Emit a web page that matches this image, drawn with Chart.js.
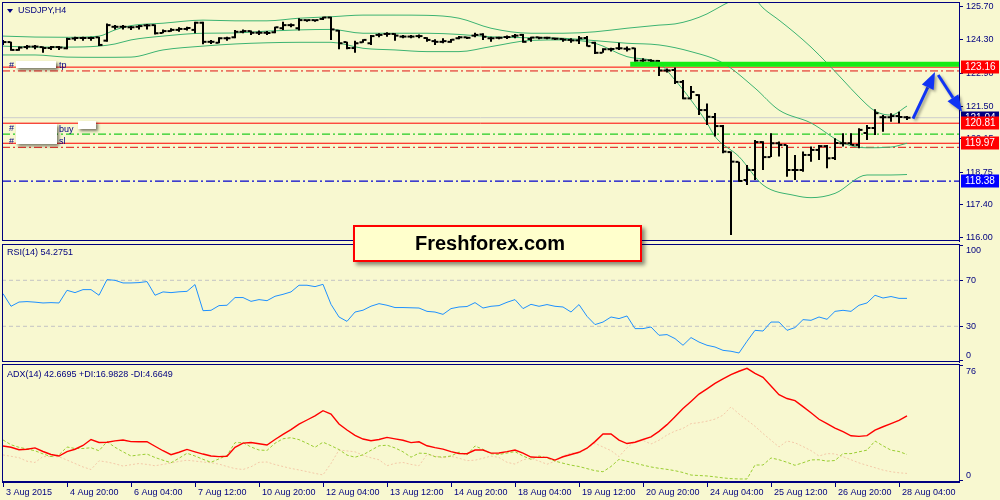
<!DOCTYPE html>
<html>
<head>
<meta charset="utf-8">
<title>USDJPY,H4</title>
<script src="https://cdn.jsdelivr.net/npm/chart.js@4.4.1/dist/chart.umd.min.js"></script>
<style>
  html, body { margin: 0; padding: 0; }
  body { width: 1000px; height: 500px; background: #f8f8d0; position: relative; overflow: hidden;
         font-family: "Liberation Sans", Arial, sans-serif; }
  canvas { position: absolute; left: 0; }
  .lbl { position: absolute; font-size: 9px; line-height: 10px; color: #000080; white-space: nowrap; }
  .mask { position: absolute; background: #fff; box-shadow: 2px 2px 3px rgba(0,0,0,0.5); }
  .tri { position: absolute; left: 7px; top: 9px; width: 0; height: 0;
         border-left: 3px solid transparent; border-right: 3px solid transparent; border-top: 4px solid #000080; }
  #brand { position: absolute; left: 353px; top: 225px; width: 225px; height: 33px; padding-left: 60px;
           border: 2px solid #ff0000; background: #ffffcc; box-shadow: 3px 3px 4px rgba(0,0,0,0.45);
           font: bold 20px "Liberation Sans", Arial, sans-serif; line-height: 33px; color: #000; }
</style>
</head>
<body>
<canvas id="price" width="1000" height="242" style="top:0"></canvas>
<canvas id="rsi" width="1000" height="121" style="top:242px"></canvas>
<canvas id="adx" width="1000" height="137" style="top:363px"></canvas>

<div class="tri"></div>
<div class="lbl" style="left:18px;top:5px">USDJPY,H4</div>
<div class="lbl" style="left:9px;top:60px">#</div>
<div class="mask" style="left:16px;top:61px;width:40px;height:7px"></div>
<div class="lbl" style="left:59px;top:60px">tp</div>
<div class="lbl" style="left:9px;top:123px">#</div>
<div class="lbl" style="left:9px;top:136px">#</div>
<div class="mask" style="left:16px;top:124px;width:41px;height:20px"></div>
<div class="lbl" style="left:59px;top:124px">buy</div>
<div class="mask" style="left:78px;top:121px;width:18px;height:8px"></div>
<div class="lbl" style="left:59px;top:136px">sl</div>
<div class="lbl" style="left:7px;top:247px">RSI(14) 54.2751</div>
<div class="lbl" style="left:7px;top:369px">ADX(14) 42.6695 +DI:16.9828 -DI:4.6649</div>
<div id="brand">Freshforex.com</div>

<script>
// ---- price bars (H4, 3 Aug 12:00 .. 28 Aug 08:00) ----
const open = [124.19,124.21,123.88,124.00,124.02,124.00,123.96,124.00,123.95,124.36,
  124.38,124.38,124.41,124.27,124.85,124.85,124.83,124.85,124.91,124.92,
  124.59,124.67,124.72,124.76,124.72,125.02,124.22,124.18,124.37,124.41,
  124.64,124.67,124.60,124.60,124.62,124.79,124.92,124.79,125.13,125.13,
  125.18,125.24,124.69,124.21,123.96,124.20,124.16,124.51,124.55,124.55,
  124.44,124.44,124.46,124.38,124.25,124.22,124.22,124.37,124.41,124.48,
  124.53,124.37,124.39,124.42,124.46,124.51,124.34,124.41,124.39,124.36,
  124.34,124.30,124.28,124.38,124.18,123.76,123.91,123.95,123.93,123.95,
  123.43,123.44,123.42,123.02,123.04,122.54,121.85,121.99,121.36,121.07,
  120.69,119.60,119.19,118.43,118.85,120.02,119.39,119.97,119.90,118.85,
  118.85,119.48,119.69,119.85,119.35,119.97,119.97,119.90,120.40,120.61,
  121.06,121.06,121.11,121.06];
const high = [124.30,124.22,124.02,124.09,124.09,124.02,124.04,124.04,124.39,124.43,
  124.43,124.43,124.43,124.99,124.92,124.92,124.88,124.92,124.97,124.95,
  124.74,124.79,124.83,124.85,125.06,125.06,124.30,124.41,124.43,124.72,
  124.74,124.69,124.69,124.67,124.85,125.06,124.99,125.21,125.16,125.16,
  125.27,125.27,124.72,124.22,124.27,124.33,124.51,124.58,124.62,124.58,
  124.51,124.51,124.53,124.41,124.33,124.37,124.34,124.46,124.43,124.60,
  124.58,124.43,124.43,124.48,124.55,124.55,124.43,124.43,124.43,124.39,
  124.37,124.37,124.46,124.46,124.22,123.95,123.97,124.18,124.02,123.97,
  123.53,123.49,123.46,123.10,123.14,122.62,122.37,122.02,121.64,121.24,
  120.74,119.62,119.20,119.06,120.11,120.05,120.39,120.04,119.90,119.48,
  119.62,119.83,119.90,119.90,120.18,120.39,120.39,120.60,120.74,121.39,
  121.15,121.23,121.29,121.11];
const low = [124.09,123.85,123.85,123.91,123.91,123.76,123.88,123.88,123.91,124.27,
  124.27,124.27,124.04,124.22,124.74,124.74,124.72,124.74,124.74,124.53,
  124.58,124.64,124.64,124.69,124.58,124.12,124.13,124.16,124.27,124.37,
  124.58,124.51,124.51,124.51,124.58,124.72,124.83,124.69,125.06,125.06,
  125.13,124.30,123.91,123.91,123.76,124.18,124.09,124.41,124.43,124.27,
  124.37,124.37,124.37,124.22,124.09,124.16,124.18,124.33,124.34,124.41,
  124.30,124.22,124.33,124.34,124.37,124.18,124.22,124.33,124.33,124.30,
  124.22,124.18,124.13,124.02,123.71,123.76,123.81,123.88,123.81,123.39,
  123.35,123.35,122.79,122.93,122.45,121.81,121.81,121.15,120.74,120.25,
  119.55,116.13,118.36,118.22,118.43,118.85,119.39,119.41,118.57,118.43,
  118.78,119.20,119.27,118.92,119.27,119.83,119.90,119.76,120.11,120.32,
  120.45,120.87,120.81,120.94];
const close = [124.21,123.88,123.98,124.02,124.02,123.96,124.00,123.98,124.34,124.38,
  124.38,124.38,124.09,124.92,124.85,124.85,124.83,124.88,124.91,124.58,
  124.67,124.72,124.76,124.80,125.02,124.22,124.22,124.37,124.37,124.64,
  124.67,124.60,124.60,124.59,124.83,124.92,124.92,125.13,125.13,125.13,
  125.24,124.74,124.16,123.96,124.16,124.30,124.46,124.51,124.55,124.48,
  124.44,124.44,124.46,124.30,124.22,124.25,124.31,124.41,124.39,124.51,
  124.43,124.37,124.39,124.42,124.48,124.22,124.40,124.39,124.39,124.35,
  124.31,124.28,124.37,124.04,123.76,123.91,123.92,123.95,123.91,123.43,
  123.44,123.42,123.02,123.02,122.54,121.85,122.12,121.36,121.08,120.69,
  119.62,119.20,118.39,118.85,120.02,119.39,119.97,119.90,118.85,118.85,
  119.48,119.69,119.85,119.34,119.98,119.97,119.90,120.53,120.61,121.23,
  121.06,121.11,121.07,121.04];

// ---- Bollinger bands (read at selected bars) ----
const upIdx = [0,4,8,12,14,16,20,25,29,33,37,41,45,49,53,57,61,66,70,74,78,82,84,86,88,90,92,93,94,95,97,99,101,103,105,107,109,111,113];
const upVal = [124.46,124.42,124.41,124.46,124.72,124.90,125.00,125.13,125.10,125.10,125.21,125.27,125.34,125.34,125.33,125.21,124.79,124.58,124.58,124.64,124.79,124.92,124.97,125.13,125.39,125.76,126.06,126.10,126.01,125.64,125.13,124.59,124.00,123.33,122.62,121.91,121.32,121.15,121.53];
const midIdx = [0,4,8,12,14,16,20,25,29,33,37,41,45,49,53,57,61,66,70,74,78,82,86,90,94,97,101,105,108,111,113];
const midVal = [124.04,124.00,124.00,124.04,124.13,124.30,124.46,124.58,124.59,124.67,124.72,124.74,124.58,124.58,124.58,124.53,124.43,124.39,124.37,124.27,124.16,124.09,123.81,123.33,122.28,121.36,120.82,119.98,119.78,119.81,119.97];
const lowIdx = [0,4,8,12,16,20,25,29,33,37,41,45,49,53,57,61,66,70,74,78,82,84,86,88,89,92,95,99,101,104,108,111,113];
const lowVal = [123.67,123.67,123.58,123.57,123.58,123.88,124.04,124.13,124.18,124.20,124.20,123.95,123.88,123.81,123.81,124.02,124.28,124.30,124.16,123.60,123.32,122.62,121.78,120.82,120.25,119.41,118.22,117.78,117.69,117.87,118.64,118.64,118.66];

// ---- indicators ----
const rsi = [58.4,47.4,51.1,51.5,51.0,50.3,50.6,50.3,61.3,59.3,
  61.9,61.9,57.0,70.6,70.0,67.7,67.7,68.0,68.9,57.0,
  59.9,59.3,60.0,60.4,66.3,43.6,43.9,48.0,48.3,55.0,
  55.0,51.7,53.2,52.3,56.1,57.8,59.9,65.7,65.7,64.5,
  66.5,49.1,38.1,34.3,42.4,44.0,47.5,49.7,48.3,46.3,
  46.3,46.1,45.9,43.0,42.4,40.4,45.4,46.8,47.2,50.6,
  45.9,47.4,48.0,50.9,53.2,45.4,49.1,47.4,48.9,47.4,
  46.8,42.4,48.9,38.7,31.5,33.7,38.1,36.7,39.0,28.0,
  28.0,29.4,22.2,22.8,19.3,13.5,20.2,16.3,13.5,12.0,
  9.1,8.3,6.8,17.0,26.5,25.9,33.7,33.7,26.5,28.9,
  35.8,35.2,38.1,36.1,43.0,43.9,43.0,48.3,50.3,57.0,
  54.6,55.9,54.3,54.3];
const adx = [22.7,21.8,20.2,20.5,21.4,19.0,17.0,16.0,18.9,20.5,
  23.0,27.0,25.0,25.2,26.1,26.7,25.6,25.5,25.6,22.5,
  19.5,16.9,18.5,20.4,18.8,17.3,16.0,15.6,15.8,21.8,
  24.6,25.0,24.2,23.3,27.0,30.4,33.6,37.3,40.0,42.7,
  46.2,44.0,37.3,33.3,29.7,27.3,26.2,27.0,28.4,27.4,
  26.5,24.9,25.5,22.8,21.6,20.6,18.9,17.7,17.5,20.0,
  20.0,17.9,18.0,18.9,20.0,17.9,15.3,15.1,15.1,13.3,
  15.5,17.0,18.5,21.2,25.6,30.7,30.7,26.6,24.3,25.2,
  27.0,28.8,32.4,36.9,42.2,47.6,52.4,57.3,60.8,64.4,
  67.4,70.3,72.5,74.4,71.1,68.4,62.6,56.9,54.3,52.9,
  48.9,44.8,40.5,37.6,34.6,32.2,29.5,29.1,29.6,33.3,
  35.5,37.6,39.7,42.7];
const plusDI = [26.7,23.5,21.8,20.7,19.5,17.4,15.6,16.8,22.0,21.0,
  21.0,21.5,19.5,25.6,21.8,18.8,16.0,16.7,17.3,15.0,
  13.2,11.5,14.5,17.8,16.0,13.8,11.8,14.1,16.4,24.9,
  24.9,22.0,20.0,19.7,24.5,27.5,28.2,26.9,24.5,21.8,
  25.2,22.9,20.3,16.6,15.2,16.8,19.8,22.8,23.2,21.4,
  18.8,15.2,17.9,17.7,15.5,15.3,16.0,18.6,16.7,22.7,
  20.4,17.5,17.0,18.0,18.9,16.0,13.8,16.0,14.7,12.6,
  11.2,9.9,9.0,7.6,6.2,5.5,9.0,13.8,12.5,11.2,
  9.9,8.7,7.8,7.1,6.2,5.0,3.3,3.0,2.7,2.1,
  1.4,0.9,0.7,0.7,10.0,10.0,14.7,13.5,11.8,9.8,
  11.5,13.4,13.5,12.6,13.0,17.6,17.6,18.8,19.9,26.0,
  22.8,19.9,19.0,17.0];
const minusDI = [16.7,15.8,14.9,12.5,11.7,15.6,15.6,15.5,13.3,11.0,
  8.7,7.0,12.8,12.0,10.8,9.3,10.2,11.0,10.4,9.5,
  10.4,11.3,12.4,13.2,12.6,12.0,11.5,10.6,9.0,7.6,
  7.0,8.8,11.8,12.0,10.3,9.0,7.7,6.7,5.6,4.4,
  3.4,11.0,20.0,19.4,18.8,16.5,14.8,13.5,9.5,11.1,
  11.7,10.4,9.5,17.0,16.0,14.7,15.8,14.5,12.9,13.2,
  14.5,16.0,15.0,11.8,10.6,13.5,14.5,12.6,10.5,12.5,
  16.0,18.1,17.8,21.0,24.4,22.0,19.6,15.6,21.5,25.7,
  26.4,24.0,26.5,30.0,32.6,34.4,37.6,38.2,39.2,40.6,
  43.2,48.8,44.0,40.0,35.8,31.0,26.5,22.0,26.0,24.8,
  22.3,19.6,16.0,17.6,17.4,15.5,13.5,11.4,9.8,8.2,
  6.6,5.5,4.8,4.4];

// ---- axes / levels ----
const timeIdx = [0,8,16,24,32,40,48,56,64,72,80,88,96,104,112];
const timeLabels = ['3 Aug 2015','4 Aug 20:00','6 Aug 04:00','7 Aug 12:00','10 Aug 20:00','12 Aug 04:00',
  '13 Aug 12:00','14 Aug 20:00','18 Aug 04:00','19 Aug 12:00','20 Aug 20:00','24 Aug 04:00',
  '25 Aug 12:00','26 Aug 20:00','28 Aug 04:00'];
const priceTicks = [125.70,124.30,122.90,121.50,120.15,118.75,117.40,116.00];
const rsiTicks = [100,70,30,0];
const rsiLevels = [70,30];
const adxTicks = [76,0];
const tagValues = [123.16,121.04,120.81,119.97,118.38];
const tagColors = ['#ff0000','#000080','#ff0000','#ff0000','#0000ff'];
const redSolid = [123.16,120.81,119.97];
const redDashDot = [123.00,119.80];
const buyLevel = 120.35;
const bidLevel = 121.04;
const supportLevel = 118.38;
const resistance = 123.28, resistanceFrom = 78.4;
// arrows: [fromBar, fromPrice, toBar, toPrice]
const arrowSegs = [[113.75,121.00,116.5,122.96],[116.9,122.83,119.9,121.28]];

const navy = '#000080';
const xMin = -0.125, xMax = 119.5;
const idx = close.map((_, i) => i);
const pts = (xs, ys) => ys.map((v, k) => ({x: xs[k], y: v}));

Chart.defaults.font.family = '"Liberation Sans", Arial, sans-serif';
Chart.defaults.font.size = 9;
Chart.defaults.color = navy;

const axisCfg = {
  price: {values: priceTicks, dec: 2, padTop: 3, padBottom: 3, tags: tagValues},
  rsi: {values: rsiTicks, dec: 0, padTop: 6.5, padBottom: 6.3},
  adx: {values: adxTicks, dec: 0, padTop: 8, padBottom: 6}
};

const frame = {
  id: 'frame',
  afterDraw(chart) {
    const {ctx, chartArea: a} = chart;
    ctx.save();
    ctx.strokeStyle = navy;
    ctx.lineWidth = 1;
    ctx.strokeRect(Math.round(a.left) + 0.5, Math.round(a.top) + 0.5,
      Math.round(a.right - a.left), Math.round(a.bottom - a.top) - 1);
    ctx.restore();
  }
};

const sideLabels = {
  id: 'sideLabels',
  afterDraw(chart) {
    const cfg = axisCfg[chart.canvas.id];
    const {ctx, chartArea: a, scales: {y}} = chart;
    ctx.save();
    ctx.textBaseline = 'middle';
    ctx.textAlign = 'left';
    ctx.font = '9px "Liberation Sans", Arial, sans-serif';
    ctx.fillStyle = navy;
    cfg.values.forEach(v => {
      let py = y.getPixelForValue(v);
      py = Math.min(Math.max(py, a.top + cfg.padTop), a.bottom - cfg.padBottom);
      ctx.fillText(v.toFixed(cfg.dec), a.right + 7, py);
    });
    (cfg.tags || []).forEach((v, k) => {
      const py = Math.round(y.getPixelForValue(v));
      ctx.fillStyle = tagColors[k];
      ctx.fillRect(a.right + 2, py - 6.5, 38, 13);
      ctx.fillStyle = '#fff';
      ctx.font = '10px "Liberation Sans", Arial, sans-serif';
      ctx.fillText(v.toFixed(2), a.right + 6, py + 0.5);
    });
    ctx.restore();
  }
};

const arrows = {
  id: 'arrows',
  afterDraw(chart) {
    const {ctx, scales: {x, y}} = chart;
    ctx.save();
    ctx.shadowColor = 'rgba(0,0,0,0.35)';
    ctx.shadowBlur = 3;
    ctx.shadowOffsetX = 2;
    ctx.shadowOffsetY = 2;
    ctx.strokeStyle = ctx.fillStyle = '#1034f4';
    ctx.lineWidth = 3;
    arrowSegs.forEach(([x0, y0, x1, y1]) => {
      const ax = x.getPixelForValue(x0), ay = y.getPixelForValue(y0);
      const bx = x.getPixelForValue(x1), by = y.getPixelForValue(y1);
      const ang = Math.atan2(by - ay, bx - ax);
      const len = 17, half = 6.5;
      const hx = bx - Math.cos(ang) * len, hy = by - Math.sin(ang) * len;
      ctx.beginPath(); ctx.moveTo(ax, ay); ctx.lineTo(hx, hy); ctx.stroke();
      ctx.beginPath();
      ctx.moveTo(bx, by);
      ctx.lineTo(hx + Math.sin(ang) * half, hy - Math.cos(ang) * half);
      ctx.lineTo(hx - Math.sin(ang) * half, hy + Math.cos(ang) * half);
      ctx.closePath();
      ctx.fill();
    });
    ctx.restore();
  }
};

function hLine(level, color, width, dash, from) {
  return {type: 'line', data: [{x: from ?? xMin, y: level}, {x: xMax, y: level}],
    borderColor: color, borderWidth: width, borderDash: dash || [], pointRadius: 0};
}
function series(xs, ys, color, width, dash, smooth) {
  return {type: 'line', data: pts(xs, ys), borderColor: color, borderWidth: width,
    borderDash: dash || [], pointRadius: 0, cubicInterpolationMode: smooth ? 'monotone' : 'default'};
}
function yAxis(min, max, tickVals) {
  return {
    position: 'right', min, max,
    afterBuildTicks: s => { s.ticks = tickVals.map(v => ({value: v})); },
    afterFit: s => { s.width = 41; },
    ticks: {display: false},
    grid: {drawOnChartArea: false, drawTicks: true, tickLength: 4, color: navy},
    border: {display: true, color: navy}
  };
}
const xHidden = {type: 'linear', min: xMin, max: xMax, offset: false, display: false};
const common = {
  responsive: false, animation: false, devicePixelRatio: 1, events: [],
  plugins: {legend: {display: false}, tooltip: {enabled: false}}
};

const bb = '#3cb371';
const dashDot = [8, 3, 2, 3];

new Chart(document.getElementById('price'), {
  type: 'line',
  data: {datasets: [
    hLine(resistance, '#14ec14', 5, [], resistanceFrom),
    {type: 'scatter', data: pts(idx.map(i => i - 0.25), open), pointStyle: 'line',
      pointRadius: 1.5, pointBorderWidth: 2, pointBorderColor: '#000', pointBackgroundColor: '#000'},
    {type: 'scatter', data: pts(idx.map(i => i + 0.25), close), pointStyle: 'line',
      pointRadius: 1.5, pointBorderWidth: 2, pointBorderColor: '#000', pointBackgroundColor: '#000'},
    {type: 'bar', data: idx.map(i => ({x: i, y: [low[i], high[i]]})),
      backgroundColor: '#000', barThickness: 2, inflateAmount: 0},
    series(upIdx, upVal, bb, 1, null, true),
    series(midIdx, midVal, bb, 1, null, true),
    series(lowIdx, lowVal, bb, 1, null, true),
    ...redSolid.map(v => hLine(v, '#ff0000', 1)),
    ...redDashDot.map(v => hLine(v, '#e01010', 1, dashDot)),
    hLine(buyLevel, '#22cc22', 1.2, dashDot),
    hLine(supportLevel, '#0000cd', 1.2, [9, 3, 2, 3]),
    hLine(bidLevel, '#cccccc', 1)
  ]},
  options: {...common,
    layout: {autoPadding: false, padding: {top: 2, left: 2, right: 0, bottom: 1}},
    scales: {x: xHidden, y: yAxis(115.874, 125.889, priceTicks)}},
  plugins: [frame, sideLabels, arrows]
});

new Chart(document.getElementById('rsi'), {
  type: 'line',
  data: {datasets: [
    series(idx, rsi, '#1e90ff', 1),
    ...rsiLevels.map(v => hLine(v, '#c4c4c4', 1, [4, 3]))
  ]},
  options: {...common,
    layout: {autoPadding: false, padding: {top: 2, left: 2, right: 0, bottom: 1}},
    scales: {x: xHidden, y: yAxis(-1.04, 101.57, rsiTicks)}},
  plugins: [frame, sideLabels]
});

new Chart(document.getElementById('adx'), {
  type: 'line',
  data: {datasets: [
    series(idx, adx, '#ff0000', 1.4),
    series(idx, plusDI, '#9acd32', 1, [3, 2]),
    series(idx, minusDI, '#f3c9a8', 1, [2, 2])
  ]},
  options: {...common,
    layout: {autoPadding: false, padding: {top: 1, left: 2, right: 0, bottom: 0}},
    scales: {
      x: {
        type: 'linear', min: xMin, max: xMax, offset: false,
        afterBuildTicks: s => { s.ticks = timeIdx.map(v => ({value: v})); },
        afterFit: s => { s.height = 18; },
        ticks: {callback: (v, k) => timeLabels[k], align: 'start', labelOffset: 3,
          maxRotation: 0, autoSkip: false, color: navy, padding: 0},
        grid: {drawOnChartArea: false, drawTicks: true, tickLength: 5, color: navy},
        border: {display: true, color: navy}
      },
      y: yAxis(-1.33, 77.33, adxTicks)
    }},
  plugins: [frame, sideLabels]
});
</script>
</body>
</html>
